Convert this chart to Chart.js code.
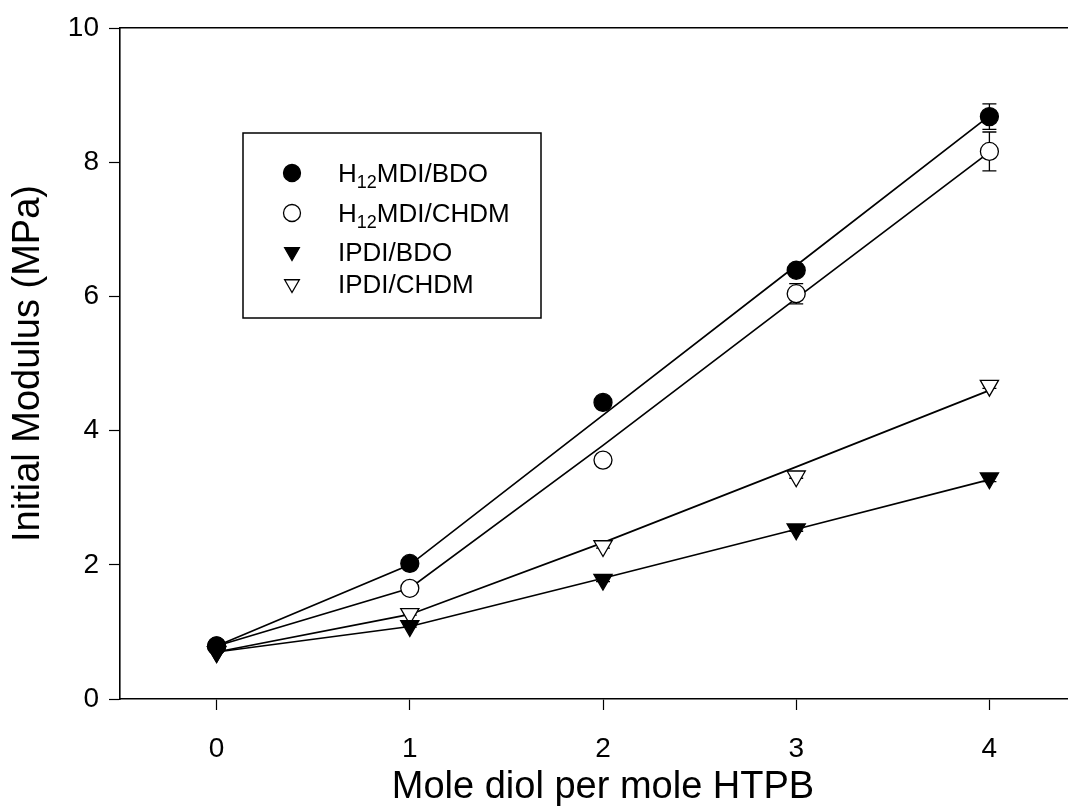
<!DOCTYPE html>
<html>
<head>
<meta charset="utf-8">
<script src="https://cdn.jsdelivr.net/npm/chart.js@4/dist/chart.umd.min.js"></script>
<style>
  html, body { margin: 0; padding: 0; background: #fff; overflow: hidden; }
  #wrap { width: 1068px; height: 807px; overflow: hidden; }
  canvas { display: block; }
</style>
</head>
<body>
<div id="wrap"><canvas id="c" width="1086" height="807"></canvas></div>
<script>
// Mole diol per mole HTPB
const xValues = [0, 1, 2, 3, 4];
const xTicks = [0, 1, 2, 3, 4];
const yTicks = [0, 2, 4, 6, 8, 10];

// Measured initial modulus (MPa)
const h12BDO = [0.79, 2.02, 4.42, 6.39, 8.68];
const h12CHDM = [0.79, 1.65, 3.56, 6.04, 8.16];
const ipdiBDO = [0.70, 1.09, 1.78, 2.53, 3.29];
const ipdiCHDM = [0.70, 1.27, 2.28, 3.32, 4.67];

// Standard deviations (MPa)
const h12BDOErr = [0, 0.08, 0.04, 0.07, 0.19];
const h12CHDMErr = [0, 0.03, 0.03, 0.15, 0.29];
const ipdiBDOErr = [0, 0.02, 0.03, 0.03, 0.05];
const ipdiCHDMErr = [0, 0.02, 0.03, 0.03, 0.04];

// Fitted trend lines
const h12BDOFit = [0.79, 2.00, 4.23, 6.46, 8.69];
const h12CHDMFit = [0.79, 1.65, 3.78, 5.97, 8.15];
const ipdiBDOFit = [0.70, 1.08, 1.80, 2.53, 3.27];
const ipdiCHDMFit = [0.70, 1.26, 2.33, 3.46, 4.60];

const seriesNames = ['H12MDI/BDO', 'H12MDI/CHDM', 'IPDI/BDO', 'IPDI/CHDM'];

const FONT = '"Liberation Sans", Arial, Helvetica, sans-serif';
const pts = (ys) => xValues.map((x, i) => ({ x, y: ys[i] }));

function markerSet(label, ys, errs, style, fill, radius) {
  return {
    type: 'scatter', label, data: pts(ys), errors: errs,
    pointStyle: style, rotation: style === 'triangle' ? 180 : 0,
    pointRadius: radius, pointHoverRadius: radius,
    pointBackgroundColor: fill, pointBorderColor: '#000', pointBorderWidth: 1.3,
    showLine: false
  };
}
function fitSet(ys) {
  return {
    type: 'line', label: '', data: pts(ys), fit: true,
    borderColor: '#000', borderWidth: 1.7, pointRadius: 0, pointHoverRadius: 0,
    tension: 0, fill: false
  };
}

// vertical error bars with caps, drawn under the markers
const errorBars = {
  id: 'errorBars',
  beforeDatasetsDraw(chart) {
    const { ctx, scales: { x, y } } = chart;
    ctx.save();
    ctx.strokeStyle = '#000';
    ctx.lineWidth = 1.3;
    chart.data.datasets.forEach((ds) => {
      if (!ds.errors) return;
      ds.data.forEach((p, i) => {
        const e = ds.errors[i];
        if (!e) return;
        const px = x.getPixelForValue(p.x);
        const top = y.getPixelForValue(p.y + e);
        const bot = y.getPixelForValue(p.y - e);
        ctx.beginPath();
        ctx.moveTo(px, top); ctx.lineTo(px, bot);
        ctx.moveTo(px - 7, top); ctx.lineTo(px + 7, top);
        ctx.moveTo(px - 7, bot); ctx.lineTo(px + 7, bot);
        ctx.stroke();
      });
    });
    ctx.restore();
  }
};

// boxed legend with subscripted labels
const boxLegend = {
  id: 'boxLegend',
  afterDraw(chart) {
    const ctx = chart.ctx;
    const box = { l: 243, t: 133, r: 541, b: 318 };
    ctx.save();
    ctx.fillStyle = '#fff';
    ctx.fillRect(box.l, box.t, box.r - box.l, box.b - box.t);
    ctx.strokeStyle = '#000';
    ctx.lineWidth = 1.5;
    ctx.strokeRect(box.l, box.t, box.r - box.l, box.b - box.t);

    const rows = [
      { y: 173, parts: [['H', 0], ['12', 1], ['MDI/BDO', 0]], mark: 'circle', fill: '#000' },
      { y: 213, parts: [['H', 0], ['12', 1], ['MDI/CHDM', 0]], mark: 'circle', fill: '#fff' },
      { y: 252, parts: [['IPDI/BDO', 0]], mark: 'tri', fill: '#000' },
      { y: 284, parts: [['IPDI/CHDM', 0]], mark: 'tri', fill: '#fff' }
    ];
    const mx = 292, tx = 338;
    rows.forEach((r) => {
      ctx.beginPath();
      if (r.mark === 'circle') {
        ctx.arc(mx, r.y, 8.5, 0, Math.PI * 2);
      } else {
        const rr = 8.5;
        ctx.moveTo(mx - rr * 0.866, r.y - rr * 0.5);
        ctx.lineTo(mx + rr * 0.866, r.y - rr * 0.5);
        ctx.lineTo(mx, r.y + rr);
        ctx.closePath();
      }
      ctx.fillStyle = r.fill;
      ctx.fill();
      ctx.lineWidth = 1.3;
      ctx.strokeStyle = '#000';
      ctx.stroke();

      let cx = tx;
      ctx.fillStyle = '#000';
      ctx.textBaseline = 'alphabetic';
      r.parts.forEach(([txt, sub]) => {
        ctx.font = (sub ? '18px ' : '26px ') + FONT;
        ctx.fillText(txt, cx, r.y + 9 + (sub ? 6 : 0));
        cx += ctx.measureText(txt).width;
      });
    });
    ctx.restore();
  }
};

const noSidePad = (s) => { s.paddingLeft = 0; s.paddingRight = 0; };

new Chart(document.getElementById('c'), {
  data: {
    datasets: [
      markerSet(seriesNames[0], h12BDO, h12BDOErr, 'circle', '#000', 9),
      markerSet(seriesNames[1], h12CHDM, h12CHDMErr, 'circle', '#fff', 9),
      markerSet(seriesNames[2], ipdiBDO, ipdiBDOErr, 'triangle', '#000', 10.5),
      markerSet(seriesNames[3], ipdiCHDM, ipdiCHDMErr, 'triangle', '#fff', 10.5),
      fitSet(h12BDOFit),
      fitSet(h12CHDMFit),
      fitSet(ipdiBDOFit),
      fitSet(ipdiCHDMFit)
    ]
  },
  options: {
    responsive: false,
    animation: false,
    events: [],
    layout: { padding: 0, autoPadding: false },
    plugins: { legend: { display: false }, tooltip: { enabled: false } },
    scales: {
      x: {
        type: 'linear', position: 'bottom', min: -0.5, max: 4.5,
        afterBuildTicks: (s) => { s.ticks = xTicks.map((v) => ({ value: v })); },
        afterFit: (s) => { s.height = 108; noSidePad(s); },
        grid: { drawOnChartArea: false, drawTicks: true, tickLength: 11, tickColor: '#000', tickWidth: 1.2 },
        border: { display: true, color: '#000', width: 1.6 },
        ticks: { color: '#000', font: { family: FONT, size: 28 }, padding: 22, maxRotation: 0 },
        title: { display: true, text: 'Mole diol per mole HTPB', color: '#000',
                 font: { family: FONT, size: 38 }, padding: { top: 0, bottom: -3 } }
      },
      xTop: {
        type: 'linear', position: 'top', min: -0.5, max: 4.5,
        afterFit: (s) => { s.height = 28; noSidePad(s); },
        grid: { display: false, drawTicks: false },
        border: { display: true, color: '#000', width: 1.6 },
        ticks: { display: false }
      },
      y: {
        type: 'linear', position: 'left', min: 0, max: 10,
        afterBuildTicks: (s) => { s.ticks = yTicks.map((v) => ({ value: v })); },
        afterFit: (s) => { s.width = 120; },
        grid: { drawOnChartArea: false, drawTicks: true, tickLength: 11, tickColor: '#000', tickWidth: 1.2 },
        border: { display: true, color: '#000', width: 1.6 },
        ticks: { color: '#000', font: { family: FONT, size: 28 }, padding: 10 },
        title: { display: true, text: 'Initial Modulus (MPa)', color: '#000',
                 font: { family: FONT, size: 38 }, padding: { top: 6, bottom: 0 } }
      }
    }
  },
  plugins: [errorBars, boxLegend]
});
</script>
</body>
</html>
